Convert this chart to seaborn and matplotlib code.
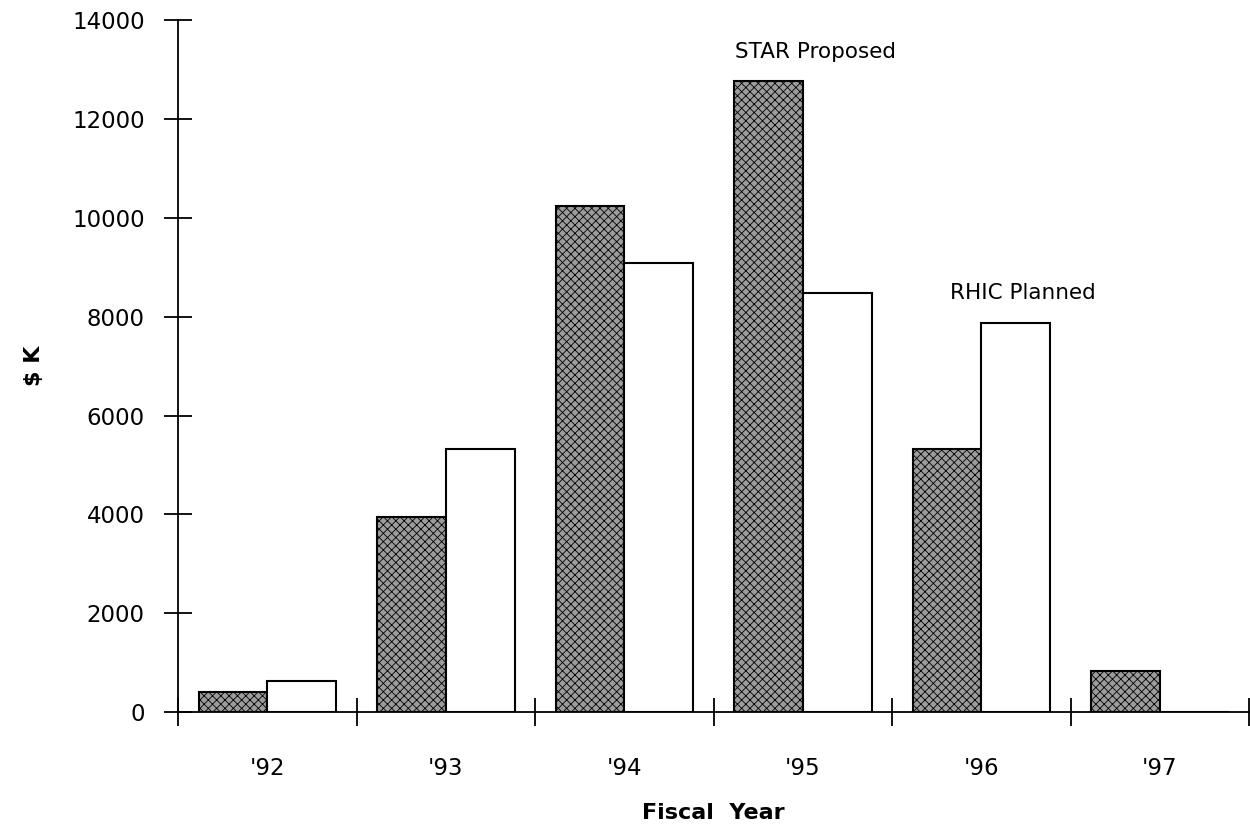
import pandas as pd
import matplotlib
matplotlib.use("Agg")
import matplotlib.pyplot as plt
import seaborn as sns
import numpy as np

# Values ($K per fiscal year)
years = ["'92", "'93", "'94", "'95", "'96", "'97"]
star_proposed = [420, 3950, 10230, 12760, 5330, 830]
rhic_planned = [640, 5320, 9080, 8470, 7870, 0]

df = pd.DataFrame({
    "year": years * 2,
    "cost": star_proposed + rhic_planned,
    "series": ["STAR Proposed"] * len(years) + ["RHIC Planned"] * len(years),
})

sns.set_style("white")
plt.rcParams["font.family"] = ["DejaVu Sans"]
plt.rcParams["hatch.linewidth"] = 0.6
plt.rcParams["text.color"] = "black"
plt.rcParams["axes.labelcolor"] = "black"
plt.rcParams["xtick.color"] = "black"
plt.rcParams["ytick.color"] = "black"

fig = plt.figure(figsize=(12.5, 8.36), dpi=100)
ax = fig.add_axes([0.1424, 0.148, 0.857, 0.828])

sns.barplot(data=df, x="year", y="cost", hue="series",
            palette={"STAR Proposed": "#9c9c9c", "RHIC Planned": "white"},
            width=0.77, edgecolor="black", linewidth=1.5, ax=ax, legend=False)

# stippled texture on the STAR bars
for bar in ax.containers[0]:
    bar.set_hatch("xxxx")

ax.set_xlim(-0.5, 5.5)
ax.set_ylim(0, 14000)
ax.set_yticks(np.arange(0, 14001, 2000))
ax.tick_params(axis="y", left=True, direction="inout", length=20, width=1.3,
               labelsize=16.5, pad=14)

# ticks between categories, labels at the centres
ax.set_xticks(np.arange(-0.5, 5.6, 1.0))
ax.set_xticklabels([])
ax.set_xticks(np.arange(len(years)), minor=True)
ax.set_xticklabels(years, minor=True, fontsize=16.5)
ax.tick_params(axis="x", which="major", bottom=True, direction="inout",
               length=20, width=1.3)
ax.tick_params(axis="x", which="minor", bottom=True, length=0, pad=32)

sns.despine(ax=ax)
for side in ["left", "bottom"]:
    ax.spines[side].set_linewidth(1.3)
    ax.spines[side].set_color("black")

ax.set_xlabel("Fiscal  Year", fontsize=16, fontweight="bold", labelpad=17)
ax.set_ylabel("$ K", fontsize=16, fontweight="bold", labelpad=20)

ax.text(3 + 0.07, star_proposed[3] + 400, "STAR Proposed", fontsize=15.5,
        ha="center", va="bottom")
ax.text(4 + 0.23, rhic_planned[4] + 400, "RHIC Planned", fontsize=15.5,
        ha="center", va="bottom")

fig.savefig("out.png", dpi=100)
